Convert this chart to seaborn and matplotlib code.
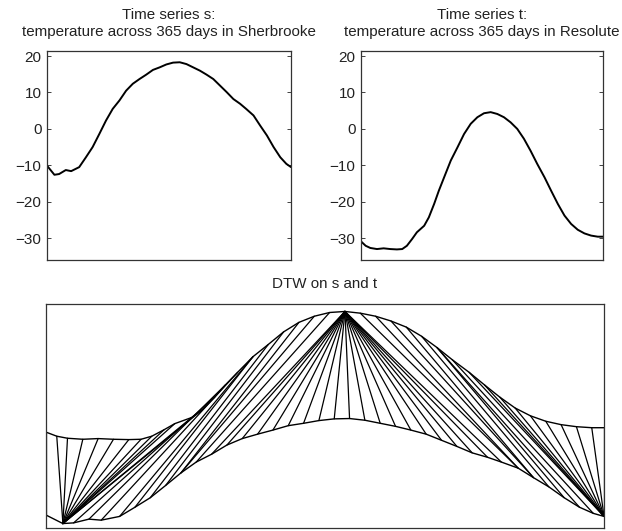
import numpy as np
import pandas as pd
import matplotlib
matplotlib.use("Agg")
import matplotlib.pyplot as plt
import seaborn as sns

# ---- data ----
s_days = [1, 12, 19, 29, 37, 49, 59, 69, 79, 89, 99, 109, 119, 129, 139, 149, 159, 169, 179, 189,
          199, 209, 219, 229, 239, 249, 259, 269, 279, 289, 298, 309, 319, 329, 339, 349, 358, 365]
s_vals = [-10.1, -12.6, -12.4, -11.3, -11.6, -10.5, -7.8, -5.0, -1.4, 2.3, 5.5, 7.8, 10.5, 12.4,
          13.7, 14.9, 16.2, 16.9, 17.7, 18.2, 18.3, 17.8, 16.9, 16.0, 14.9, 13.7, 11.9, 10.1, 8.2,
          6.9, 5.5, 3.7, 0.9, -1.8, -5.0, -7.8, -9.6, -10.5]

t_days = [1, 8, 15, 25, 35, 45, 55, 63, 70, 78, 85, 96, 103, 111, 118, 126, 136, 146, 156, 166,
          176, 186, 196, 206, 216, 226, 236, 246, 256, 266, 277, 287, 297, 307, 317, 327, 337, 347,
          357, 365]
t_vals = [-30.9, -32.1, -32.7, -33.0, -32.8, -33.0, -33.1, -33.0, -32.1, -30.2, -28.4, -26.6,
          -24.3, -20.6, -17.0, -13.3, -8.7, -5.1, -1.4, 1.4, 3.2, 4.3, 4.6, 4.1, 3.2, 1.8, 0.0,
          -2.7, -6.0, -9.6, -13.3, -17.0, -20.6, -23.8, -26.1, -27.7, -28.7, -29.3, -29.6, -29.6]

y_ticks = [-30, -20, -10, 0, 10, 20]
t_offset = 45.2  # vertical shift of t in the DTW panel

title_s = "Time series s:\ntemperature across 365 days in Sherbrooke"
title_t = "Time series t:\ntemperature across 365 days in Resolute"
title_dtw = "DTW on s and t"

# ---- DTW (absolute difference) ----
s_arr = np.asarray(s_vals)
t_arr = np.asarray(t_vals)
n, m = len(s_arr), len(t_arr)
D = np.full((n + 1, m + 1), np.inf)
D[0, 0] = 0.0
for i in range(1, n + 1):
    for j in range(1, m + 1):
        c = abs(s_arr[i - 1] - t_arr[j - 1])
        D[i, j] = c + min(D[i - 1, j], D[i, j - 1], D[i - 1, j - 1])
i, j = n, m
path = []
while i > 0 and j > 0:
    path.append((i - 1, j - 1))
    k = np.argmin([D[i - 1, j - 1], D[i - 1, j], D[i, j - 1]])
    if k == 0:
        i, j = i - 1, j - 1
    elif k == 1:
        i -= 1
    else:
        j -= 1
path = path[::-1]

rows = []
for p, (a, b) in enumerate(path):
    rows.append({"pair": p, "x": s_days[a], "y": s_vals[a]})
    rows.append({"pair": p, "x": t_days[b], "y": t_vals[b] + t_offset})
seg = pd.DataFrame(rows)

# ---- plotting ----
sns.set_style("white")
plt.rcParams["font.family"] = ["Liberation Sans", "DejaVu Sans"]
plt.rcParams["axes.unicode_minus"] = True

fig = plt.figure(figsize=(6.22, 5.31), dpi=100)
ax1 = fig.add_axes([0.0756, 0.5104, 0.3923, 0.3936])
ax2 = fig.add_axes([0.5804, 0.5104, 0.3891, 0.3936])
ax3 = fig.add_axes([0.0740, 0.0057, 0.8971, 0.4218])

for ax, d, v, ttl in [(ax1, s_days, s_vals, title_s), (ax2, t_days, t_vals, title_t)]:
    sns.lineplot(x=d, y=v, ax=ax, color="black", linewidth=1.4, sort=False)
    ax.set_xlim(1, 365)
    ax.set_ylim(-36, 21.4)
    ax.set_xticks([])
    ax.set_yticks(y_ticks)
    ax.tick_params(axis="y", direction="in", length=3, width=0.6, labelsize=11,
                   left=True, right=True, pad=4, colors="#222222")
    ax.set_title(ttl, fontsize=10.9, pad=11, color="#222222")

sns.lineplot(data=seg, x="x", y="y", units="pair", estimator=None, sort=False,
             color="black", linewidth=0.9, ax=ax3)
sns.lineplot(x=s_days, y=s_vals, ax=ax3, color="black", linewidth=1.0, sort=False)
sns.lineplot(x=t_days, y=list(np.asarray(t_vals) + t_offset), ax=ax3, color="black",
             linewidth=1.0, sort=False)
ax3.set_xlim(1, 365)
ax3.set_ylim(-13.9, 52.0)
ax3.set_xticks([])
ax3.set_yticks([])
ax3.set_title(title_dtw, fontsize=10.9, pad=11.5, color="#222222")

for ax in (ax1, ax2, ax3):
    for sp in ax.spines.values():
        sp.set_visible(True)
        sp.set_color("#333333")
        sp.set_linewidth(0.9)
    ax.set_xlabel("")
    ax.set_ylabel("")

fig.savefig("out.png", dpi=100, facecolor="white")
